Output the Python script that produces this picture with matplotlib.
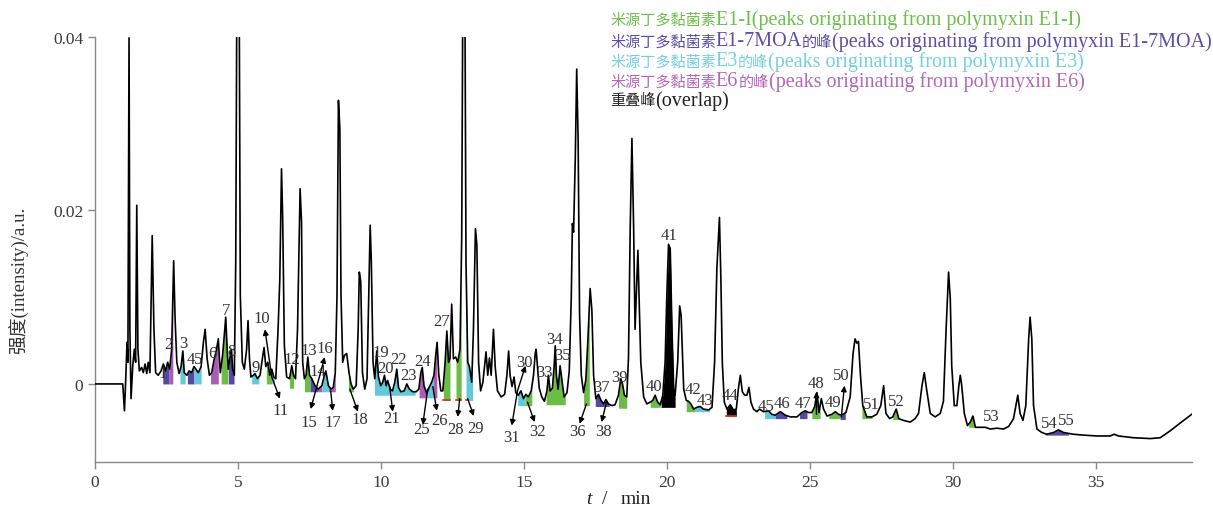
import numpy as np
import matplotlib
matplotlib.use("Agg")
import matplotlib.pyplot as plt

plt.rcParams['font.family'] = ['Liberation Serif', 'Noto Sans CJK SC']

# ---- chromatogram trace ----
time_min = [
    0.00, 0.50, 0.97, 1.03, 1.07, 1.12, 1.15, 1.19, 1.22, 1.26, 1.32, 1.375, 1.42, 1.46, 1.50,
    1.55, 1.63, 1.69, 1.75, 1.81, 1.86, 1.92, 2.00, 2.06, 2.12, 2.21, 2.31, 2.39, 2.47, 2.54,
    2.61, 2.68, 2.75, 2.80, 2.86, 2.94, 3.01, 3.07, 3.12, 3.21, 3.29, 3.38, 3.46, 3.53, 3.61,
    3.71, 3.79, 3.85, 3.92, 4.00, 4.08, 4.17, 4.25, 4.31, 4.38, 4.46, 4.52, 4.57, 4.62, 4.66,
    4.72, 4.77, 4.81, 4.87, 4.92, 4.96, 5.00, 5.04, 5.08, 5.15, 5.22, 5.30, 5.35, 5.40, 5.45,
    5.54, 5.59, 5.68, 5.77, 5.85, 5.91, 5.97, 6.04, 6.11, 6.18, 6.25, 6.32, 6.40, 6.46, 6.52,
    6.56, 6.62, 6.70, 6.80, 6.88, 6.94, 7.01, 7.08, 7.17, 7.22, 7.26, 7.32, 7.38, 7.44, 7.50,
    7.58, 7.69, 7.81, 7.93, 8.02, 8.07, 8.16, 8.25, 8.33, 8.40, 8.46, 8.51, 8.56, 8.60, 8.66,
    8.72, 8.80, 8.88, 8.95, 9.03, 9.13, 9.20, 9.24, 9.29, 9.35, 9.43, 9.51, 9.57, 9.62, 9.66,
    9.72, 9.78, 9.85, 9.91, 9.99, 10.06, 10.12, 10.18, 10.23, 10.32, 10.40, 10.48, 10.55, 10.61, 10.69,
    10.81, 10.90, 10.99, 11.11, 11.23, 11.32, 11.39, 11.44, 11.50, 11.60, 11.68, 11.77, 11.85, 11.91, 11.96,
    12.02, 12.09, 12.16, 12.24, 12.30, 12.36, 12.41, 12.47, 12.53, 12.61, 12.68, 12.76, 12.82, 12.86, 12.90,
    12.93, 12.97, 13.03, 13.09, 13.17, 13.23, 13.30, 13.35, 13.41, 13.48, 13.56, 13.67, 13.73, 13.79, 13.85,
    13.93, 13.99, 14.07, 14.20, 14.32, 14.40, 14.46, 14.51, 14.58, 14.65, 14.71, 14.80, 14.89, 14.98, 15.06,
    15.15, 15.25, 15.33, 15.39, 15.42, 15.47, 15.53, 15.62, 15.71, 15.80, 15.85, 15.91, 15.99, 16.05, 16.09,
    16.13, 16.19, 16.26, 16.32, 16.40, 16.50, 16.58, 16.65, 16.69, 16.73, 16.79, 16.84, 16.89, 16.94, 17.00,
    17.08, 17.16, 17.23, 17.31, 17.37, 17.43, 17.51, 17.60, 17.69, 17.78, 17.86, 17.95, 18.07, 18.18, 18.30,
    18.38, 18.44, 18.51, 18.59, 18.65, 18.71, 18.77, 18.83, 18.88, 18.93, 18.98, 19.02, 19.08, 19.18, 19.29,
    19.41, 19.50, 19.58, 19.67, 19.76, 19.85, 19.93, 19.99, 20.05, 20.11, 20.17, 20.23, 20.28, 20.37, 20.44,
    20.49, 20.58, 20.67, 20.75, 20.83, 20.93, 21.04, 21.16, 21.27, 21.45, 21.57, 21.66, 21.74, 21.83, 21.88,
    21.93, 22.00, 22.09, 22.21, 22.32, 22.42, 22.49, 22.56, 22.63, 22.71, 22.79, 22.86, 22.93, 23.02, 23.14,
    23.23, 23.37, 23.55, 23.66, 23.78, 23.96, 24.13, 24.31, 24.54, 24.71, 24.83, 24.95, 25.06, 25.16, 25.24,
    25.31, 25.39, 25.47, 25.59, 25.76, 25.88, 25.99, 26.10, 26.25, 26.40, 26.50, 26.57, 26.63, 26.69, 26.76,
    26.84, 26.98, 27.16, 27.33, 27.47, 27.57, 27.65, 27.78, 27.89, 28.01, 28.10, 28.26, 28.50, 28.67, 28.79,
    28.91, 28.99, 29.08, 29.20, 29.37, 29.55, 29.66, 29.75, 29.84, 29.90, 29.95, 30.04, 30.13, 30.20, 30.25,
    30.30, 30.39, 30.50, 30.60, 30.69, 30.78, 30.95, 31.12, 31.30, 31.53, 31.76, 31.94, 32.11, 32.26, 32.34,
    32.44, 32.54, 32.64, 32.69, 32.75, 32.81, 32.93, 33.10, 33.27, 33.51, 33.68, 33.86, 34.20, 34.56, 35.02,
    35.49, 35.63, 35.78, 36.30, 36.89, 37.24, 37.59, 37.94, 38.34,
]
intensity = [
    0.0, 0.0, 0.0, -0.0031, 0.0002, 0.0048, 0.0025, 0.0399, 0.0063, -0.0017, 0.0021, 0.0040, 0.0025, 0.0206, 0.0040,
    0.0015, 0.0019, 0.0013, 0.0023, 0.0012, 0.0025, 0.0013, 0.0171, 0.0063, 0.0013, 0.0010, 0.0015, 0.0023, 0.0015, 0.0025,
    0.0017, 0.0040, 0.0142, 0.0075, 0.0025, 0.0012, 0.0020, 0.0038, 0.0013, 0.0010, 0.0015, 0.0013, 0.0020, 0.0017, 0.0013,
    0.0020, 0.0048, 0.0063, 0.0029, 0.0010, 0.0013, 0.0029, 0.0040, 0.0052, 0.0013, 0.0033, 0.0056, 0.0077, 0.0040, 0.0017,
    0.0031, 0.0040, 0.0017, 0.0010, 0.0140, 0.0460, 0.0430, 0.0460, 0.0102, 0.0025, 0.0017, 0.0040, 0.0073, 0.0029, 0.0008,
    0.0010, 0.0012, 0.0006, 0.0010, 0.0029, 0.0042, 0.0020, 0.0025, 0.0010, 0.0017, 0.0008, 0.0006, 0.0063, 0.0120, 0.0248,
    0.0193, 0.0044, 0.0008, 0.0006, 0.0021, 0.0010, 0.0006, 0.0063, 0.0225, 0.0187, 0.0025, 0.0006, 0.0010, 0.0031, 0.0010,
    0.0006, -0.0002, -0.0006, -0.0002, 0.0010, 0.0015, -0.0002, -0.0006, -0.0004, 0.0013, 0.0102, 0.0327, 0.0294, 0.0102, 0.0025,
    0.0033, 0.0035, 0.0013, 0.0000, -0.0006, -0.0002, 0.0063, 0.0129, 0.0118, 0.0013, -0.0006, 0.0006, 0.0102, 0.0183, 0.0141,
    0.0025, 0.0006, 0.0038, 0.0008, -0.0002, 0.0002, 0.0010, -0.0002, 0.0004, -0.0006, -0.0008, 0.0002, 0.0017, -0.0004, -0.0009,
    -0.0008, 0.0000, -0.0006, -0.0009, -0.0009, -0.0006, 0.0013, 0.0019, -0.0002, -0.0011, -0.0004, 0.0002, 0.0010, 0.0033, 0.0048,
    0.0010, -0.0008, -0.0008, 0.0025, 0.0061, 0.0025, 0.0029, 0.0092, 0.0029, 0.0031, 0.0025, 0.0040, 0.0170, 0.0460, 0.0430,
    0.0460, 0.0140, 0.0025, 0.0020, 0.0002, 0.0063, 0.0179, 0.0160, 0.0025, -0.0008, 0.0002, 0.0037, 0.0010, 0.0030, 0.0010,
    0.0063, 0.0020, -0.0008, -0.0015, -0.0012, 0.0010, 0.0038, 0.0010, -0.0003, 0.0008, -0.0010, -0.0013, -0.0008, -0.0017, -0.0012,
    -0.0015, -0.0008, 0.0010, 0.0035, 0.0040, 0.0020, -0.0005, -0.0015, -0.0020, -0.0008, 0.0010, -0.0008, -0.0005, 0.0020, 0.0044,
    0.0010, -0.0006, 0.0021, 0.0005, -0.0015, -0.0010, 0.0015, 0.0100, 0.0185, 0.0175, 0.0260, 0.0363, 0.0280, 0.0080, 0.0010,
    -0.0010, 0.0005, 0.0050, 0.0110, 0.0085, 0.0010, -0.0017, -0.0012, -0.0019, -0.0023, -0.0018, -0.0023, -0.0025, -0.0024, -0.0013,
    0.0006, 0.0000, -0.0013, -0.0015, 0.0030, 0.0179, 0.0283, 0.0180, 0.0063, 0.0110, 0.0154, 0.0100, 0.0025, -0.0015, -0.0023,
    -0.0021, -0.0019, -0.0013, -0.0021, -0.0024, -0.0013, 0.0025, 0.0102, 0.0161, 0.0156, 0.0063, -0.0006, -0.0013, 0.0025, 0.0090,
    0.0079, -0.0006, -0.0019, -0.0020, -0.0023, -0.0029, -0.0027, -0.0026, -0.0029, -0.0030, -0.0027, 0.0025, 0.0133, 0.0192, 0.0121,
    0.0025, -0.0021, -0.0029, -0.0024, -0.0030, -0.0029, -0.0006, 0.0010, -0.0009, -0.0013, -0.0013, -0.0004, -0.0021, -0.0029, -0.0032,
    -0.0029, -0.0032, -0.0031, -0.0035, -0.0036, -0.0032, -0.0036, -0.0038, -0.0038, -0.0033, -0.0031, -0.0033, -0.0033, -0.0026, -0.0010,
    -0.0033, -0.0017, -0.0029, -0.0037, -0.0035, -0.0032, -0.0035, -0.0036, -0.0033, -0.0015, 0.0035, 0.0052, 0.0047, 0.0049, 0.0010,
    -0.0025, -0.0038, -0.0038, -0.0035, -0.0025, -0.0002, -0.0034, -0.0040, -0.0038, -0.0029, -0.0040, -0.0042, -0.0044, -0.0040, -0.0034,
    -0.0002, 0.0013, -0.0008, -0.0034, -0.0038, -0.0034, -0.0020, 0.0060, 0.0129, 0.0098, 0.0021, -0.0025, -0.0025, -0.0002, 0.0010,
    -0.0002, -0.0034, -0.0048, -0.0044, -0.0037, -0.0050, -0.0050, -0.0050, -0.0052, -0.0051, -0.0052, -0.0049, -0.0040, -0.0013, -0.0034,
    -0.0042, -0.0025, 0.0052, 0.0077, 0.0052, -0.0025, -0.0052, -0.0056, -0.0058, -0.0056, -0.0053, -0.0056, -0.0058, -0.0059, -0.0060,
    -0.0060, -0.0058, -0.0060, -0.0062, -0.0063, -0.0062, -0.0054, -0.0045, -0.0035,
]

# ---- shaded peak regions: start, end, local baseline, origin ----
fill_start = [2.37, 2.59, 2.97, 3.23, 3.46, 4.04, 4.41, 4.66, 5.48, 5.99, 6.18, 6.80, 7.32, 7.52, 7.78,
              7.93, 8.16, 8.86, 9.77, 11.33, 11.60, 11.83, 12.18, 12.62, 12.97, 14.78, 15.04, 15.77, 17.08, 17.49,
              18.30, 19.41, 19.79, 20.67, 20.98, 22.07, 23.41, 23.78, 24.63, 25.06, 25.65, 26.05, 26.81, 27.89, 30.54,
              33.22]
fill_end = [2.59, 2.72, 3.15, 3.46, 3.71, 4.31, 4.64, 4.86, 5.73, 6.18, 6.27, 6.94, 7.52, 7.78, 7.93,
            8.16, 8.40, 9.03, 11.19, 11.60, 11.83, 11.95, 12.41, 12.80, 13.20, 15.04, 15.27, 16.44, 17.28, 17.97,
            18.59, 19.76, 20.28, 20.98, 21.48, 22.42, 23.78, 24.19, 24.89, 25.35, 26.05, 26.23, 27.16, 28.15, 30.81,
            34.03]
fill_base = [0.0, 0.0, 0.0, 0.0, 0.0, 0.0, 0.0, 0.0, 0.0, 0.0, 0.0, -0.0005, -0.0009, -0.0009, -0.0009,
             -0.0009, -0.0009, -0.0009, -0.0013, -0.0016, -0.0016, -0.0016, -0.0019, -0.0019, -0.0019, -0.0025, -0.0025, -0.0024, -0.0025, -0.0026,
             -0.0028, -0.0027, -0.0027, -0.0032, -0.0032, -0.0037, -0.0040, -0.0040, -0.0040, -0.0040, -0.0040, -0.0041, -0.0040, -0.0041, -0.0050,
             -0.0059]
fill_group = ["E1-7MOA", "E6", "E3", "E1-7MOA", "E3", "E6", "E1-I", "E1-7MOA", "E3", "E1-I", "E3", "E1-I", "E1-I", "E1-7MOA", "E6",
              "E3", "E6", "E1-I", "E3", "E6", "E3", "E6", "E1-I", "E1-I", "E3", "E3", "E1-I", "E1-I", "E1-I", "E1-7MOA",
              "E1-I", "E1-I", "overlap", "E1-I", "E3", "overlap", "E3", "E1-7MOA", "E1-7MOA", "E1-I", "E1-I", "E1-7MOA", "E1-I", "E1-I", "E1-I",
              "E1-7MOA"]

# peak numbers
peak_labels = [str(i) for i in range(1, 56)]

# ---- styles / layout ----
fill_colors = {"E1-I": "#6bbd45", "E1-7MOA": "#5548a3", "E3": "#62c9d9",
               "E6": "#ad5cb3", "overlap": "#000000"}
legend_colors = ["#6cc04a", "#5a4fa8", "#74d0dc", "#b467b8", "#222222"]
legend_parts = [["米源丁多黏菌素", "E1-I(peaks originating from polymyxin E1-I)"],
                ["米源丁多黏菌素", "E1-7MOA", "的峰", "(peaks originating from polymyxin E1-7MOA)"],
                ["米源丁多黏菌素", "E3", "的峰", "(peaks originating from polymyxin E3)"],
                ["米源丁多黏菌素", "E6", "的峰", "(peaks originating from polymyxin E6)"],
                ["重叠峰", "(overlap)"]]
legend_y_px = [20, 42, 62, 82, 101]

label_pos = [(2.38, 0.0013), (2.58, 0.0046), (3.07, 0.0047), (3.35, 0.0029), (3.60, 0.0029),
             (4.12, 0.0036), (4.58, 0.0085), (4.79, 0.0038), (5.62, 0.0020), (5.83, 0.0076),
             (6.50, -0.0030), (6.88, 0.0029), (7.47, 0.0039), (7.79, 0.0015), (7.47, -0.0044),
             (8.03, 0.0042), (8.31, -0.0044), (9.26, -0.0040), (9.99, 0.0037), (10.16, 0.0018),
             (10.37, -0.0039), (10.62, 0.0029), (10.97, 0.0010), (11.46, 0.0027), (11.42, -0.0052),
             (12.05, -0.0042), (12.12, 0.0073), (12.61, -0.0052), (13.31, -0.0051), (15.02, 0.0025),
             (14.57, -0.0061), (15.47, -0.0054), (15.72, 0.0014), (16.07, 0.0052), (16.35, 0.0033),
             (16.87, -0.0054), (17.71, -0.0003), (17.78, -0.0054), (18.34, 0.0008), (19.53, -0.0002),
             (20.08, 0.0172), (20.92, -0.0006), (21.34, -0.0018), (22.21, -0.0013), (23.47, -0.0025),
             (24.00, -0.0022), (24.76, -0.0022), (25.22, 0.0001), (25.81, -0.0021), (26.09, 0.0010),
             (27.14, -0.0023), (28.01, -0.0020), (31.33, -0.0037), (33.36, -0.0045), (33.95, -0.0042)]

# arrows: (tail, head)
arrows = [((6.18, 0.0008), (5.94, 0.0063)), ((6.18, 0.0008), (6.46, -0.0017)),
          ((7.86, 0.0010), (8.03, 0.0031)), ((7.86, 0.0010), (7.54, -0.0029)),
          ((8.24, -0.0008), (8.31, -0.0031)), ((8.91, -0.0006), (9.19, -0.0032)),
          ((10.30, -0.0003), (10.41, -0.0032)), ((11.63, -0.0006), (11.46, -0.0047)),
          ((11.81, -0.0003), (11.95, -0.0031)), ((12.75, -0.0017), (12.68, -0.0038)),
          ((13.03, -0.0017), (13.24, -0.0037)), ((14.77, -0.0008), (15.05, 0.0021)),
          ((14.77, -0.0008), (14.57, -0.0048)), ((15.12, -0.0021), (15.37, -0.0044)),
          ((17.18, -0.0023), (16.94, -0.0046)), ((17.88, -0.0021), (17.71, -0.0044)),
          ((25.22, -0.0035), (25.22, -0.0009)), ((26.09, -0.0038), (26.20, -0.0002))]

red_marks = [(12.18, 12.41, -0.0019), (12.62, 12.80, -0.0019), (12.97, 13.01, -0.0019),
             (22.07, 22.42, -0.0037)]

t = np.array(time_min)
y = np.array(intensity)

W, H = 1213, 510
fig = plt.figure(figsize=(W / 100, H / 100), dpi=100)
ax = fig.add_axes([95 / W, 47 / H, 1097 / W, 425 / H])

# shaded peaks follow the drawn trace between the region limits
for a, b, base, grp in zip(fill_start, fill_end, fill_base, fill_group):
    tg = np.linspace(a, b, 60)
    yg = np.maximum(np.interp(tg, t, y), base)
    ax.fill_between(tg, base, yg, color=fill_colors[grp], lw=0, zorder=1)
for a, b, base in red_marks:
    ax.plot([a, b], [base, base], color="#e03020", lw=1.2, zorder=2)

ax.plot(t, y, color="black", lw=1.2, zorder=3)

for lab, (lx, ly) in zip(peak_labels, label_pos):
    ax.text(lx, ly, lab, fontsize=12, color="#333333", ha="center", va="center", zorder=4)

for tail, head in arrows:
    ax.annotate("", xy=head, xytext=tail,
                arrowprops=dict(arrowstyle="-|>", color="black", lw=1.0,
                                mutation_scale=8, shrinkA=0, shrinkB=0), zorder=4)

ax.set_xlim(0, 38.35)
ax.set_ylim(-0.009, 0.04)
ax.set_xticks([0, 5, 10, 15, 20, 25, 30, 35])
ax.set_yticks([0, 0.02, 0.04])
ax.set_yticklabels(["0", "0.02", "0.04"])
for s in ["top", "right"]:
    ax.spines[s].set_visible(False)
for s in ["left", "bottom"]:
    ax.spines[s].set_color("#888888")
    ax.spines[s].set_linewidth(1.0)
ax.tick_params(colors="#888888", labelcolor="#3a3a3a", labelsize=12.5, length=5, width=1)

# axis titles
fig.text(589 / W, 1 - 500 / H, "t", fontsize=14, style="italic", color="#222222",
         ha="center", va="center")
fig.text(605 / W, 1 - 500 / H, "/", fontsize=14, color="#222222", ha="center", va="center")
fig.text(636 / W, 1 - 500 / H, "min", fontsize=14, color="#222222", ha="center", va="center")
fig.text(19 / W, 1 - 280 / H, "强度(intensity)/a.u.", fontsize=13.5, color="#333333",
         rotation=90, ha="center", va="center")

# coloured legend text: CJK and Latin runs set one after another
renderer = fig.canvas.get_renderer()
for parts, col, ypx in zip(legend_parts, legend_colors, legend_y_px):
    xpx = 610
    for part in parts:
        is_cjk = ord(part[0]) > 0x2E80
        if is_cjk:
            txt = fig.text(xpx / W, 1 - ypx / H, part, color=col, fontsize=10.9,
                           family="Noto Sans CJK SC", ha="left", va="center")
        else:
            txt = fig.text(xpx / W, 1 - ypx / H, part, color=col, fontsize=14.5,
                           family="Liberation Serif", ha="left", va="center")
        xpx += txt.get_window_extent(renderer=renderer).width

fig.savefig("out.png", dpi=100)
